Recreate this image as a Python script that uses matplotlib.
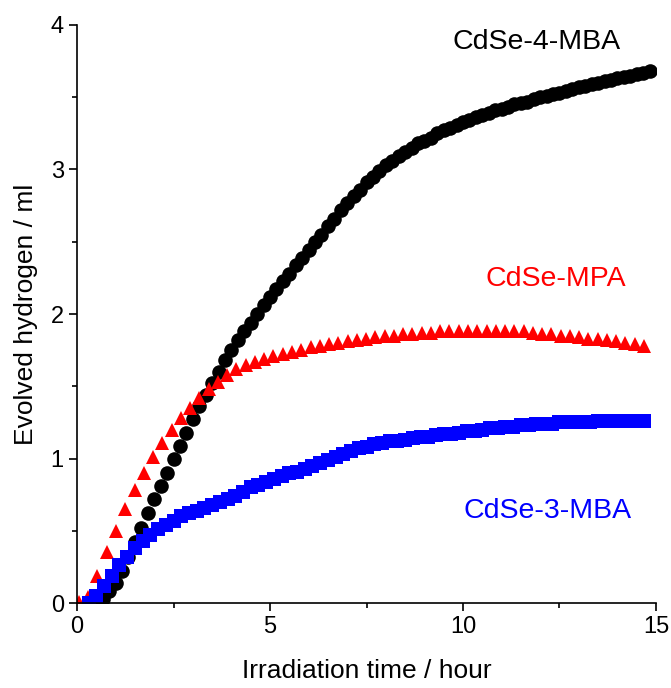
import numpy as np
import matplotlib
matplotlib.use("Agg")
import matplotlib.pyplot as plt
from matplotlib.ticker import MultipleLocator

plt.rcParams['font.family'] = ['Liberation Sans', 'DejaVu Sans']

# evolved hydrogen (ml), sampled every 10 min from 0.5 h
mba4_start, mba4_step = 0.5, 1 / 6
mba4_h2 = [0.00, 0.03, 0.08, 0.14, 0.22, 0.32, 0.42, 0.52, 0.62, 0.72, 0.81, 0.90,
           1.00, 1.09, 1.18, 1.27, 1.36, 1.44, 1.52, 1.60, 1.68, 1.75, 1.82, 1.88,
           1.94, 2.00, 2.06, 2.12, 2.17, 2.23, 2.28, 2.34, 2.39, 2.44, 2.50, 2.55,
           2.61, 2.66, 2.72, 2.77, 2.82, 2.86, 2.91, 2.95, 2.99, 3.03, 3.06, 3.09,
           3.12, 3.15, 3.18, 3.20, 3.22, 3.25, 3.27, 3.29, 3.31, 3.33, 3.34, 3.36,
           3.38, 3.39, 3.41, 3.42, 3.43, 3.45, 3.46, 3.47, 3.49, 3.50, 3.51, 3.52,
           3.53, 3.54, 3.56, 3.57, 3.58, 3.59, 3.60, 3.61, 3.62, 3.63, 3.64, 3.65,
           3.66, 3.67, 3.68]

mpa_start, mpa_step = 0.05, 0.24
mpa_h2 = [0.01, 0.04, 0.19, 0.35, 0.50, 0.65, 0.78, 0.90, 1.01, 1.11, 1.20, 1.28,
          1.35, 1.42, 1.48, 1.53, 1.58, 1.62, 1.65, 1.67, 1.69, 1.71, 1.72, 1.74,
          1.75, 1.77, 1.78, 1.79, 1.80, 1.81, 1.82, 1.83, 1.84, 1.85, 1.85, 1.86,
          1.86, 1.87, 1.87, 1.88, 1.88, 1.88, 1.88, 1.88, 1.88, 1.88, 1.88, 1.88,
          1.88, 1.87, 1.86, 1.86, 1.85, 1.85, 1.84, 1.83, 1.83, 1.82, 1.81, 1.80,
          1.79, 1.78]

mba3_start, mba3_step = 0.3, 0.2
mba3_h2 = [0.00, 0.05, 0.12, 0.19, 0.26, 0.32, 0.38, 0.43, 0.47, 0.51, 0.54, 0.57,
           0.60, 0.62, 0.64, 0.66, 0.68, 0.70, 0.72, 0.74, 0.77, 0.80, 0.82, 0.84,
           0.86, 0.88, 0.90, 0.91, 0.93, 0.95, 0.97, 0.99, 1.01, 1.03, 1.05, 1.07,
           1.08, 1.10, 1.11, 1.12, 1.12, 1.13, 1.14, 1.15, 1.15, 1.16, 1.17, 1.17,
           1.18, 1.19, 1.19, 1.20, 1.21, 1.21, 1.22, 1.22, 1.23, 1.23, 1.24, 1.24,
           1.24, 1.25, 1.25, 1.25, 1.25, 1.25, 1.26, 1.26, 1.26, 1.26, 1.26, 1.26,
           1.26]

series = [
    ("CdSe-4-MBA", mba4_start, mba4_step, mba4_h2, "o", "black", (11.9, 3.88)),
    ("CdSe-MPA", mpa_start, mpa_step, mpa_h2, "^", "red", (12.4, 2.24)),
    ("CdSe-3-MBA", mba3_start, mba3_step, mba3_h2, "s", "blue", (12.2, 0.64)),
]

fig = plt.figure(figsize=(6.71, 6.88), dpi=100)
ax = fig.add_axes([0.1148, 0.1235, 0.8628, 0.8402])

for name, t0, dt, h2, marker, colour, label_pos in series:
    t = t0 + dt * np.arange(len(h2))
    ax.plot(t, h2, linestyle='none', marker=marker, markersize=10.5,
            color=colour, markeredgewidth=0)
    ax.text(*label_pos, name, color=colour, fontsize=20.5, ha='center', va='center')

ax.set_xlim(0, 15)
ax.set_ylim(0, 4)
ax.xaxis.set_major_locator(MultipleLocator(5))
ax.xaxis.set_minor_locator(MultipleLocator(2.5))
ax.yaxis.set_major_locator(MultipleLocator(1))
ax.yaxis.set_minor_locator(MultipleLocator(0.5))
for side in ('top', 'right'):
    ax.spines[side].set_visible(False)
for side in ('left', 'bottom'):
    ax.spines[side].set_linewidth(1.2)
ax.tick_params(which='major', direction='out', length=6, width=1.2, labelsize=17)
ax.tick_params(which='minor', direction='out', length=3.5, width=1.2)

ax.set_xlabel('Irradiation time / hour', fontsize=19, labelpad=15)
ax.set_ylabel('Evolved hydrogen / ml', fontsize=19, labelpad=9)

fig.savefig('out.png', dpi=100)
